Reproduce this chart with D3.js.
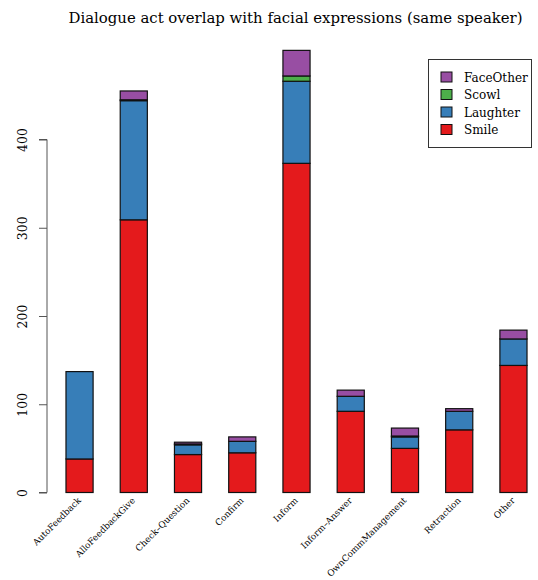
<!DOCTYPE html>
<html>
<head>
<meta charset="utf-8">
<script src="https://cdn.jsdelivr.net/npm/d3@7"></script>
<style>
  html, body { margin: 0; padding: 0; background: #fff; }
  svg { display: block; font-family: "DejaVu Serif", serif; }
</style>
</head>
<body>
<svg id="chart" width="538" height="580"></svg>
<script>
// Dialogue act categories and counts of co-occurring facial expressions
const categories = ["AutoFeedback", "AlloFeedbackGive", "Check\u2013Question", "Confirm", "Inform",
                    "Inform\u2013Answer", "OwnCommManagement", "Retraction", "Other"];
const smile     = [38, 309, 43, 45, 373, 92, 50, 71, 144];
const laughter  = [99, 135, 11, 13, 93, 17, 13, 21, 30];
const scowl     = [0, 1, 1, 0, 6, 0, 1, 0, 0];
const faceOther = [0, 10, 2, 5, 29, 7, 9, 3, 10];
const seriesNames = ["Smile", "Laughter", "Scowl", "FaceOther"];
const seriesColors = ["#E41A1C", "#377EB8", "#4DAF4A", "#984EA3"];
const yTicks = [0, 100, 200, 300, 400];
const title = "Dialogue act overlap with facial expressions (same speaker)";

const rows = categories.map((c, i) => ({
  cat: c, Smile: smile[i], Laughter: laughter[i], Scowl: scowl[i], FaceOther: faceOther[i]
}));

const svg = d3.select("#chart");

const x = d3.scaleBand().domain(categories).range([47, 546])
  .paddingInner(0.5).paddingOuter(0.35);
const y = d3.scaleLinear().domain([0, 400]).range([492.5, 139.5]);

const stack = d3.stack().keys(seriesNames)(rows);

// stacked bars
svg.append("g").selectAll("g").data(stack).join("g")
  .attr("fill", (d, i) => seriesColors[i])
  .selectAll("rect").data(d => d.filter(s => s[1] > s[0])).join("rect")
  .attr("x", d => x(d.data.cat))
  .attr("width", x.bandwidth())
  .attr("y", d => y(d[1]))
  .attr("height", d => y(d[0]) - y(d[1]))
  .attr("stroke", "#111")
  .attr("stroke-width", 1.2);

// y axis
const yAxis = svg.append("g").attr("transform", "translate(47,0)")
  .call(d3.axisLeft(y).tickValues(yTicks).tickSize(8).tickFormat(d3.format("d")));
yAxis.select(".domain").attr("stroke", "#555").attr("d", `M-8,${y(0)}H0V${y(400)}H-8`);
yAxis.selectAll(".tick line").attr("stroke", "#555");
yAxis.selectAll(".tick text")
  .attr("font-family", "DejaVu Serif, serif")
  .attr("font-size", 12.5)
  .attr("fill", "#000")
  .attr("text-anchor", "middle")
  .attr("dy", 0)
  .attr("x", 0)
  .attr("transform", "translate(-20,0) rotate(-90)");

// category labels, slanted
svg.append("g").selectAll("text").data(categories).join("text")
  .attr("transform", d => `translate(${x(d) + x.bandwidth() / 2 + 2},${501}) rotate(-45)`)
  .attr("text-anchor", "end")
  .attr("font-size", 8.8)
  .attr("fill", "#000")
  .text(d => d);

// title
svg.append("text")
  .attr("x", 295.5).attr("y", 23)
  .attr("text-anchor", "middle")
  .attr("font-size", 14.9)
  .attr("fill", "#000")
  .text(title);

// legend
const legend = svg.append("g");
legend.append("rect")
  .attr("x", 428.5).attr("y", 59.5).attr("width", 103).attr("height", 88)
  .attr("fill", "#fff").attr("stroke", "#333").attr("stroke-width", 1);
const legendOrder = [3, 2, 1, 0];
legendOrder.forEach((si, k) => {
  const yy = 77 + k * 17.5;
  legend.append("rect")
    .attr("x", 441).attr("y", yy - 5).attr("width", 11).attr("height", 10)
    .attr("fill", seriesColors[si]).attr("stroke", "#111").attr("stroke-width", 1);
  legend.append("text")
    .attr("x", 464).attr("y", yy + 4.5)
    .attr("font-size", 12)
    .attr("fill", "#000")
    .text(seriesNames[si]);
});
</script>
</body>
</html>
